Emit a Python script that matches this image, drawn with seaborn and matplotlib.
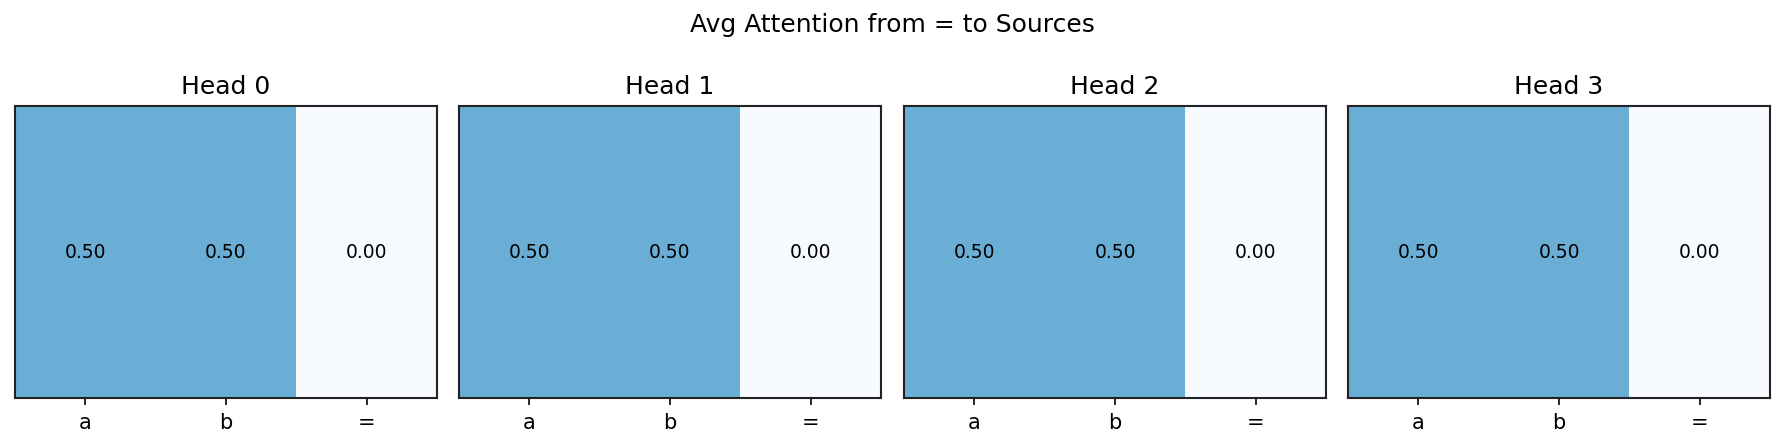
import numpy as np
import pandas as pd
import matplotlib
matplotlib.use("Agg")
import matplotlib.pyplot as plt
import seaborn as sns

heads = ["Head 0", "Head 1", "Head 2", "Head 3"]
sources = ["a", "b", "="]
head0 = [0.50, 0.50, 0.00]
head1 = [0.50, 0.50, 0.00]
head2 = [0.50, 0.50, 0.00]
head3 = [0.50, 0.50, 0.00]
values = [head0, head1, head2, head3]

W, H = 1785, 448
fig = plt.figure(figsize=(W / 150, H / 150), dpi=150)
lefts = [15, 459, 904, 1348]
aw = 422
top, bottom = 106, 398
for i, (name, vals) in enumerate(zip(heads, values)):
    ax = fig.add_axes([lefts[i] / W, 1 - bottom / H, aw / W, (bottom - top) / H])
    df = pd.DataFrame([vals], columns=sources)
    sns.heatmap(df, ax=ax, cmap="Blues", vmin=0, vmax=1, cbar=False,
                annot=True, fmt=".2f", annot_kws={"fontsize": 9, "color": "black"})
    ax.set_title(name, fontsize=12)
    ax.set_yticks([])
    ax.set_xticklabels(sources, rotation=0, fontsize=10)
    ax.tick_params(axis="x", length=3.5, width=0.8)
    for s in ax.spines.values():
        s.set_visible(True)
        s.set_linewidth(1.0)
        s.set_color("#222222")
    ax.set_xlabel("")
    ax.set_ylabel("")

fig.suptitle("Avg Attention from = to Sources", fontsize=12, y=1 - 25 / H, va="center")
fig.savefig("out.png", dpi=150)
